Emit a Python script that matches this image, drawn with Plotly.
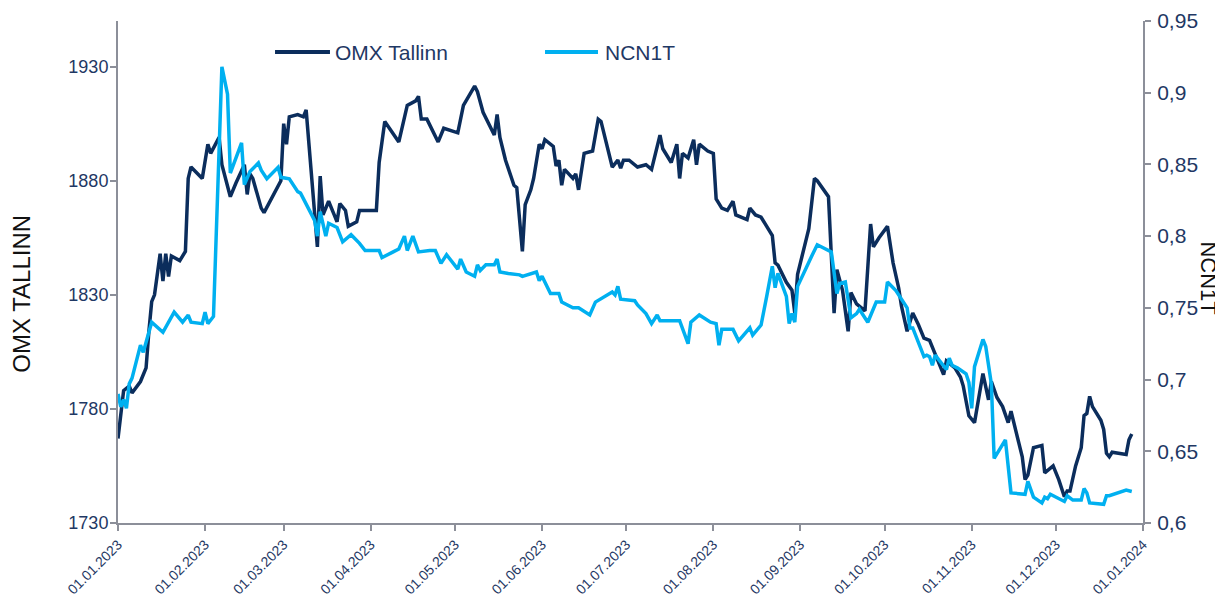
import plotly.graph_objects as go
import pandas as pd

# Day offsets from 01.01.2023 and values
omx_day = [0, 1, 2, 4, 5, 8, 10, 11, 12, 13, 15, 16, 17, 18, 19, 22, 24, 25, 26, 30,
           32, 33, 36, 37, 40, 42, 45, 46, 47, 48, 51, 52, 55, 58, 59, 60, 61, 64, 66, 67,
           71, 72, 73, 75, 77, 78, 79, 81, 82, 85, 86, 89, 92, 93, 95, 100, 103, 106, 107, 108,
           110, 114, 116, 121, 123, 127, 128, 130, 134, 135, 136, 138, 141, 142, 144, 145, 147, 148, 150, 151,
           152, 155, 156, 157, 158, 159, 162, 163, 164, 166, 169, 171, 172, 176, 178, 179, 180, 182, 185, 188,
           190, 193, 194, 197, 199, 200, 201, 203, 205, 206, 207, 210, 212, 213, 215, 217, 219, 220, 224, 225,
           227, 229, 231, 233, 234, 235, 238, 240, 241, 242, 245, 246, 248, 249, 253, 255, 256, 258, 260, 261,
           263, 266, 268, 269, 271, 274, 276, 278, 279, 281, 283, 285, 287, 289, 291, 294, 295, 298, 300, 301,
           303, 305, 308, 310, 311, 313, 315, 317, 318, 320, 322, 323, 324, 326, 329, 330, 333, 335, 337, 338,
           339, 341, 343, 344, 345, 346, 347, 350, 351, 352, 353, 354, 359, 360, 361]
omx_val = [1767, 1778, 1788, 1790, 1787, 1792, 1798, 1814, 1827, 1830, 1848, 1836, 1848, 1838, 1847, 1845, 1849, 1881, 1886, 1881,
           1896, 1892, 1899, 1887, 1873, 1879, 1887, 1874, 1883, 1881, 1868, 1866, 1873, 1880, 1905, 1896, 1908, 1909, 1908, 1911,
           1851, 1882, 1865, 1871, 1865, 1862, 1870, 1867, 1860, 1862, 1867, 1867, 1867, 1888, 1906, 1897, 1913, 1915, 1917, 1907,
           1907, 1897, 1903, 1901, 1913, 1921.5, 1919, 1910, 1900, 1909, 1899, 1889, 1878, 1877, 1849, 1869.5, 1876, 1881, 1896, 1894,
           1898, 1895, 1886.5, 1889, 1878, 1885, 1881, 1883, 1876, 1892, 1893, 1907, 1906, 1886, 1889, 1885.5, 1889, 1889, 1886, 1887,
           1885, 1900, 1894, 1888, 1896, 1881, 1892, 1890, 1898, 1887, 1896, 1893, 1892, 1872, 1868, 1867, 1871, 1865, 1863, 1868,
           1865, 1864, 1860, 1856, 1844, 1843, 1835.5, 1832, 1822, 1839, 1854, 1859, 1881, 1880, 1873, 1822, 1841, 1832, 1814, 1831,
           1826, 1823, 1861, 1851, 1855, 1860, 1844, 1833, 1825, 1814, 1822, 1817, 1811, 1810, 1804, 1795, 1801, 1798, 1794, 1790,
           1777, 1774, 1795.5, 1784, 1792, 1785, 1781, 1774, 1779, 1769, 1759, 1749, 1751, 1763, 1764, 1752, 1755, 1749, 1741.5, 1744,
           1744, 1755, 1763, 1777, 1778, 1785.5, 1781, 1775, 1771, 1760.5, 1759, 1761, 1760, 1766.5, 1769]

ncn_day = [0, 1, 2, 3, 4, 5, 8, 9, 12, 16, 20, 23, 25, 26, 30, 31, 32, 34, 37, 39,
           40, 44, 45, 47, 50, 51, 53, 57, 58, 61, 64, 65, 70, 71, 72, 74, 75, 78, 80, 83,
           86, 88, 93, 94, 98, 100, 102, 103, 105, 107, 111, 113, 115, 117, 121, 122, 124, 127, 128, 129,
           131, 134, 135, 136, 139, 143, 144, 149, 150, 151, 154, 157, 158, 162, 164, 168, 170, 176, 177, 178,
           179, 184, 185, 188, 190, 192, 193, 200, 203, 204, 207, 211, 213, 214, 215, 219, 221, 225, 226, 229,
           231, 233, 234, 235, 238, 239, 240, 241, 242, 246, 247, 249, 253, 254, 256, 257, 259, 261, 263, 264,
           267, 270, 273, 274, 277, 281, 282, 283, 287, 288, 289, 290, 291, 295, 296, 297, 299, 302, 303, 304,
           305, 308, 309, 311, 312, 316, 318, 323, 324, 326, 329, 330, 331, 332, 337, 338, 340, 343, 344, 345,
           346, 351, 352, 353, 359, 361]
ncn_val = [0.690, 0.681, 0.686, 0.680, 0.697, 0.701, 0.724, 0.719, 0.740, 0.733, 0.747, 0.740, 0.745, 0.740, 0.739, 0.747, 0.739, 0.744, 0.918, 0.899,
           0.844, 0.865, 0.836, 0.845, 0.851, 0.846, 0.840, 0.848, 0.841, 0.840, 0.831, 0.830, 0.811, 0.800, 0.817, 0.800, 0.809, 0.806, 0.796, 0.801,
           0.795, 0.790, 0.790, 0.785, 0.789, 0.791, 0.800, 0.790, 0.800, 0.789, 0.790, 0.790, 0.781, 0.787, 0.777, 0.784, 0.775, 0.772, 0.780, 0.776,
           0.780, 0.780, 0.784, 0.775, 0.774, 0.773, 0.772, 0.775, 0.769, 0.772, 0.760, 0.760, 0.754, 0.750, 0.750, 0.745, 0.754, 0.761, 0.759, 0.765,
           0.756, 0.755, 0.752, 0.746, 0.739, 0.745, 0.741, 0.741, 0.725, 0.740, 0.745, 0.740, 0.739, 0.724, 0.735, 0.735, 0.727, 0.736, 0.731, 0.738,
           0.758, 0.779, 0.764, 0.774, 0.758, 0.739, 0.746, 0.740, 0.765, 0.783, 0.786, 0.794, 0.790, 0.789, 0.760, 0.767, 0.768, 0.743, 0.746, 0.749,
           0.740, 0.754, 0.754, 0.768, 0.762, 0.750, 0.736, 0.736, 0.716, 0.717, 0.716, 0.710, 0.717, 0.707, 0.715, 0.710, 0.708, 0.704, 0.698, 0.680,
           0.709, 0.728, 0.723, 0.697, 0.645, 0.658, 0.621, 0.620, 0.629, 0.618, 0.614, 0.618, 0.617, 0.620, 0.615, 0.619, 0.616, 0.616, 0.624, 0.621,
           0.614, 0.613, 0.619, 0.619, 0.623, 0.622]

month_ticks = pd.date_range("2023-01-01", "2024-01-01", freq="MS")
month_labels = [d.strftime("%d.%m.%Y") for d in month_ticks]

left_ticks = [1730, 1780, 1830, 1880, 1930]
right_ticks = [0.6, 0.65, 0.7, 0.75, 0.8, 0.85, 0.9, 0.95]
right_labels = ["0,6", "0,65", "0,7", "0,75", "0,8", "0,85", "0,9", "0,95"]

series_names = ["OMX Tallinn", "NCN1T"]
colors = ["#0B2D5C", "#00B0F0"]

base = pd.Timestamp("2023-01-01")
omx_dates = [base + pd.Timedelta(days=d) for d in omx_day]
ncn_dates = [base + pd.Timedelta(days=d) for d in ncn_day]

NAVY_TXT = "#1F3864"
AXIS = "#8C8F99"
FONT = "Liberation Sans, Arial, sans-serif"

fig = go.Figure()
fig.add_trace(go.Scatter(x=omx_dates, y=omx_val, mode="lines", name=series_names[0],
                         line=dict(color=colors[0], width=3.5), showlegend=False))
fig.add_trace(go.Scatter(x=ncn_dates, y=ncn_val, mode="lines", name=series_names[1],
                         line=dict(color=colors[1], width=3.5), yaxis="y2", showlegend=False))

axis_common = dict(showline=True, linecolor=AXIS, linewidth=2, ticks="outside",
                   tickcolor=AXIS, tickwidth=2, ticklen=6, showgrid=False, zeroline=False,
                   automargin=False)

# the page body adds an 8px offset, so the figure is sized 1215x591
fig.update_layout(
    width=1215, height=591,
    margin=dict(l=110, r=80, t=13, b=76),
    paper_bgcolor="white", plot_bgcolor="white",
    font=dict(family=FONT, color=NAVY_TXT),
    xaxis=dict(type="date", range=[month_ticks[0], month_ticks[-1]],
               tickvals=list(month_ticks), ticktext=month_labels, tickangle=-45,
               tickfont=dict(size=14, color=NAVY_TXT), **axis_common),
    yaxis=dict(range=[1730, 1950], tickvals=left_ticks, ticktext=[str(v) for v in left_ticks],
               tickfont=dict(size=18, color=NAVY_TXT), ticklabelstandoff=-2, **axis_common),
    yaxis2=dict(range=[0.6, 0.95], tickvals=right_ticks, ticktext=right_labels, overlaying="y",
                side="right", tickfont=dict(size=21, color=NAVY_TXT), ticklabelstandoff=2, **axis_common),
)

# axis titles
fig.add_annotation(text="OMX TALLINN", xref="paper", yref="paper", x=-0.095, y=0.456,
                   textangle=-90, showarrow=False, font=dict(size=24, color="#111111", family=FONT),
                   xanchor="center", yanchor="middle")
fig.add_annotation(text="NCN1T", xref="paper", yref="paper", x=1.064, y=0.488,
                   textangle=90, showarrow=False, font=dict(size=22, color="#111111", family=FONT),
                   xanchor="center", yanchor="middle")

# legend (manual)
leg = [(0.1532, 0.2068, 0.2098), (0.4166, 0.4683, 0.4732)]
for (x0, x1, xt), name, col in zip(leg, series_names, colors):
    fig.add_shape(type="line", xref="paper", yref="paper", x0=x0, x1=x1, y0=0.938, y1=0.938,
                  line=dict(color=col, width=4))
    fig.add_annotation(text=name, xref="paper", yref="paper", x=xt, y=0.938, xanchor="left",
                       yanchor="middle", showarrow=False, font=dict(size=21, color=NAVY_TXT, family=FONT))

fig.write_html("out.html")
